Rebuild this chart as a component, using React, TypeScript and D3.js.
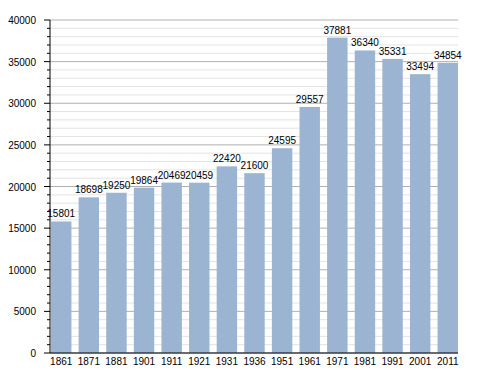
import React from "react";
import * as d3 from "d3";

const years = ["1861", "1871", "1881", "1901", "1911", "1921", "1931", "1936", "1951", "1961", "1971", "1981", "1991", "2001", "2011"];
const population = [15801, 18698, 19250, 19864, 20469, 20459, 22420, 21600, 24595, 29557, 37881, 36340, 35331, 33494, 34854];
const majorTicks = [0, 5000, 10000, 15000, 20000, 25000, 30000, 35000, 40000];
const minorTicks = d3.range(0, 40001, 1000);

const width = 488;
const height = 373;
const left = 50;
const right = 458;
const top = 20;
const bottom = 353;
const font = "'Liberation Sans', Arial, sans-serif";

export default function App() {
  const x = d3.scaleBand().domain(years).range([left + 1, right]).paddingInner(0.26).paddingOuter(0);
  const y = d3.scaleLinear().domain([0, 40000]).range([bottom, top]);

  return (
    <svg width={width} height={height} style={{ position: "absolute", left: 0, top: 0, background: "#fff" }}>
      {/* minor grid */}
      {minorTicks.filter((t) => t % 5000 !== 0).map((t) => (
        <g key={"m" + t}>
          <line x1={left} x2={right} y1={y(t)} y2={y(t)} stroke="#e3e3e3" strokeWidth={1} />
          <line x1={left - 3} x2={left} y1={y(t)} y2={y(t)} stroke="#000" strokeWidth={1} />
        </g>
      ))}
      {/* major grid */}
      {majorTicks.map((t) => (
        <g key={"M" + t}>
          <line x1={left} x2={right} y1={y(t)} y2={y(t)} stroke="#b0b0b0" strokeWidth={1} />
          <line x1={left - 6} x2={left} y1={y(t)} y2={y(t)} stroke="#000" strokeWidth={1} />
          <text x={36} y={y(t) + 4} textAnchor="end" fontSize={10} fontFamily={font} fill="#000">{t}</text>
        </g>
      ))}
      {/* bars */}
      {years.map((yr, i) => (
        <rect key={yr} x={x(yr)} y={y(population[i])} width={x.bandwidth()} height={bottom - y(population[i])} fill="#9bb4d1" />
      ))}
      {/* value labels */}
      {years.map((yr, i) => (
        <text key={"v" + yr} x={(x(yr) as number) + x.bandwidth() / 2} y={y(population[i]) - 4} textAnchor="middle" fontSize={10} fontFamily={font} fill="#000">{population[i]}</text>
      ))}
      {/* axes */}
      <line x1={left} x2={left} y1={top} y2={bottom} stroke="#000" strokeWidth={1} />
      <line x1={left} x2={right} y1={bottom} y2={bottom} stroke="#000" strokeWidth={1} />
      {years.map((yr) => (
        <text key={"x" + yr} x={(x(yr) as number) + x.bandwidth() / 2} y={bottom + 12} textAnchor="middle" fontSize={10} fontFamily={font} fill="#000">{yr}</text>
      ))}
    </svg>
  );
}
